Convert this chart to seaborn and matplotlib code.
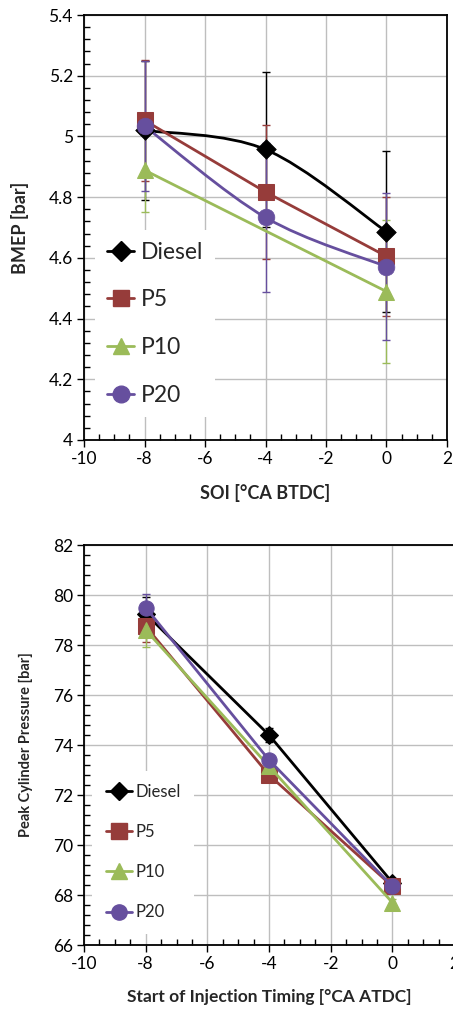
import numpy as np
import pandas as pd
import matplotlib
matplotlib.use("Agg")
import matplotlib.pyplot as plt
import seaborn as sns
from matplotlib.lines import Line2D
from matplotlib.path import Path
from matplotlib.patches import PathPatch
from matplotlib.ticker import MultipleLocator

# ---------------- data ----------------
series = ["Diesel", "P5", "P10", "P20"]
colors = {"Diesel": "#000000", "P5": "#963C3A", "P10": "#9BBB59", "P20": "#664F9E"}
markers = {"Diesel": "D", "P5": "s", "P10": "^", "P20": "o"}

# BMEP (top panel)
bmep_x = {"Diesel": [-8, -4, 0], "P5": [-8, -4, 0], "P10": [-8, 0], "P20": [-8, -4, 0]}
bmep_y = {"Diesel": [5.02, 4.957, 4.686],
          "P5": [5.053, 4.817, 4.605],
          "P10": [4.889, 4.489],
          "P20": [5.034, 4.733, 4.571]}
bmep_err = {"Diesel": [0.23, 0.255, 0.265],
            "P5": [0.2, 0.22, 0.195],
            "P10": [0.138, 0.235],
            "P20": [0.215, 0.245, 0.243]}
bmep_smooth = {"Diesel": True, "P5": False, "P10": False, "P20": True}

# Peak cylinder pressure (bottom panel)
pcp_x = {"Diesel": [-8, -4, 0], "P5": [-8, -4, 0], "P10": [-8, -4, 0], "P20": [-8, -4, 0]}
pcp_y = {"Diesel": [79.25, 74.4, 68.5],
         "P5": [78.75, 72.8, 68.35],
         "P10": [78.6, 73.15, 67.7],
         "P20": [79.5, 73.4, 68.35]}
pcp_err = {"Diesel": [0.65, 0.3, 0.15],
           "P5": [0.63, 0.2, 0.15],
           "P10": [0.68, 0.2, 0.15],
           "P20": [0.55, 0.2, 0.15]}

# ---------------- style ----------------
sns.set_style("white")
plt.rcParams["font.family"] = ["Lato", "DejaVu Sans"]
plt.rcParams["axes.unicode_minus"] = False

W, H = 453, 1010
fig = plt.figure(figsize=(W / 100, H / 100), dpi=100)

ax1 = fig.add_axes([84 / W, 1 - 440 / H, 363 / W, 425 / H])
ax2 = fig.add_axes([84 / W, 1 - 945 / H, 370 / W, 400 / H])


def smooth_patch(xs, ys, color, lw):
    pts = np.column_stack([xs, ys]).astype(float)
    n = len(pts)
    verts = [pts[0]]
    codes = [Path.MOVETO]
    for i in range(n - 1):
        p0 = pts[i - 1] if i > 0 else pts[i]
        p1 = pts[i]
        p2 = pts[i + 1]
        p3 = pts[i + 2] if i + 2 < n else pts[i + 1]
        c1 = p1 + (p2 - p0) / 6.0
        c2 = p2 - (p3 - p1) / 6.0
        verts += [c1, c2, p2]
        codes += [Path.CURVE4] * 3
    return PathPatch(Path(verts, codes), facecolor="none", edgecolor=color, lw=lw,
                     zorder=3, capstyle="round", joinstyle="round")


def draw_panel(ax, xd, yd, ed, smooth, lw, msz):
    for s in series:
        c = colors[s]
        df = pd.DataFrame({"x": xd[s], "y": yd[s]})
        ax.errorbar(df["x"], df["y"], yerr=ed[s], fmt="none", ecolor=c,
                    elinewidth=1.0, capsize=3, capthick=1.0, zorder=2)
        if smooth.get(s, False):
            ax.add_patch(smooth_patch(df["x"], df["y"], c, lw))
            sns.scatterplot(data=df, x="x", y="y", ax=ax, color=c, marker=markers[s],
                            s=msz[s] ** 2, edgecolor=c, linewidth=0.5, zorder=4,
                            legend=False)
        else:
            sns.lineplot(data=df, x="x", y="y", ax=ax, color=c, lw=lw, sort=False,
                         estimator=None, marker=markers[s], markersize=msz[s],
                         markeredgecolor=c, zorder=3, legend=False)


def style_axes(ax, ylim, ymaj, ymin):
    ax.set_xlim(-10, 2)
    ax.set_ylim(*ylim)
    ax.xaxis.set_major_locator(MultipleLocator(2))
    ax.xaxis.set_minor_locator(MultipleLocator(0.5))
    ax.yaxis.set_major_locator(MultipleLocator(ymaj))
    ax.yaxis.set_minor_locator(MultipleLocator(ymin))
    ax.grid(True, which="major", color="#BEBEBE", lw=1.0)
    ax.set_axisbelow(True)
    for sp in ax.spines.values():
        sp.set_color("black")
        sp.set_linewidth(1.3)
    ax.tick_params(which="major", direction="out", length=5, width=1.0,
                   labelsize=12.5, color="black", labelcolor="black", pad=3,
                   bottom=True, left=True)
    ax.tick_params(which="minor", direction="in", length=4.5, width=1.0,
                   color="black", bottom=True, left=True)


msz1 = {"Diesel": 10, "P5": 12, "P10": 12, "P20": 12}
draw_panel(ax1, bmep_x, bmep_y, bmep_err, bmep_smooth, 2.0, msz1)
style_axes(ax1, (4, 5.4), 0.2, 0.04)
ax1.set_yticks([4, 4.2, 4.4, 4.6, 4.8, 5, 5.2, 5.4])
ax1.set_yticklabels(["4", "4.2", "4.4", "4.6", "4.8", "5", "5.2", "5.4"])
ax1.set_xlabel("SOI [°CA BTDC]", fontsize=13, fontweight="bold", labelpad=12)
ax1.set_ylabel("BMEP [bar]", fontsize=13, fontweight="bold", labelpad=14)

msz2 = {"Diesel": 9, "P5": 11, "P10": 11, "P20": 11}
draw_panel(ax2, pcp_x, pcp_y, pcp_err, {}, 2.0, msz2)
style_axes(ax2, (66, 82), 2, 0.4)
ax2.set_xlabel("Start of Injection Timing [°CA ATDC]", fontsize=12.5,
               fontweight="bold", labelpad=12)
ax2.set_ylabel("Peak Cylinder Pressure [bar]", fontsize=10.5, fontweight="bold",
               labelpad=14)


def legend_handles(msz, lw):
    return [Line2D([], [], color=colors[s], marker=markers[s], markersize=msz[s],
                   markeredgecolor=colors[s], lw=lw) for s in series]


leg1 = ax1.legend(legend_handles(msz1, 2.0), series, loc="upper left",
                  bbox_to_anchor=(0.0, 0.52), fontsize=16.5, frameon=True,
                  facecolor="white", edgecolor="none", framealpha=1,
                  handlelength=1.2, handletextpad=0.3, labelspacing=1.16,
                  borderpad=0.5, fancybox=False)
leg1.set_zorder(5)

leg2 = ax2.legend(legend_handles(msz2, 2.0), series, loc="upper left",
                  bbox_to_anchor=(0.0, 0.457), fontsize=12, frameon=True,
                  facecolor="white", edgecolor="none", framealpha=1,
                  handlelength=1.6, handletextpad=0.2, labelspacing=1.45,
                  borderpad=0.8, fancybox=False)
leg2.set_zorder(5)

fig.savefig("out.png", dpi=100)
